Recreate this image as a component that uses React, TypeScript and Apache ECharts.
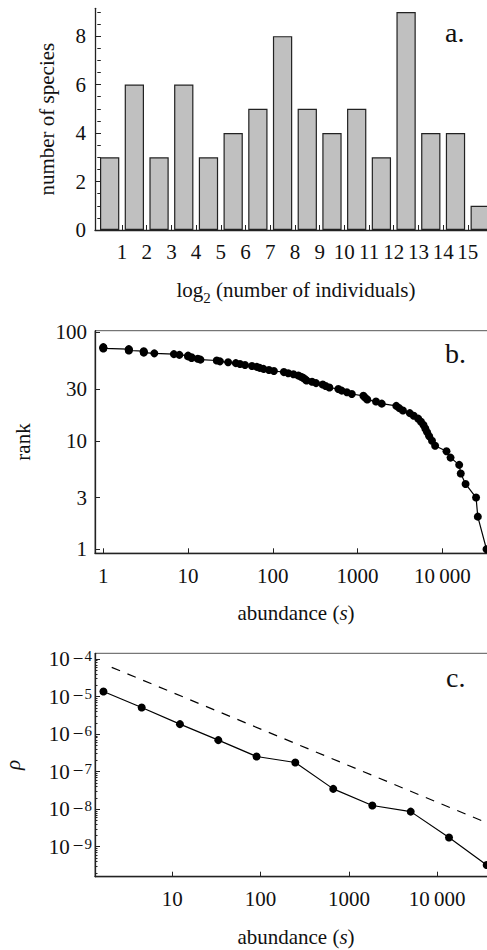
import React, { useEffect, useRef } from "react";
import * as echarts from "echarts";

// ---------- data ----------
// panel a: number of species per log2 abundance class (classes 0..15)
const binValues = [3, 6, 3, 6, 3, 4, 5, 8, 5, 4, 5, 3, 9, 4, 4, 1];
const binTickLabels = [1, 2, 3, 4, 5, 6, 7, 8, 9, 10, 11, 12, 13, 14, 15];
const countTicks = [0, 2, 4, 6, 8];

// panel b: abundance of species ordered by rank (rank = index + 1)
const abundance = [
  33200, 26200, 25000, 18800, 16500, 15800, 12500, 11200, 8220,
  7550, 7000, 6620, 6300, 6000, 5600, 5200, 4600, 4130,
  3430, 3100, 2860,
  1930, 1650, 1300, 1230, 1170,
  855, 748, 650, 593,
  465, 420, 388, 324, 290,
  250, 240, 229, 215, 200, 175, 152, 135,
  103, 90, 77.5, 70, 64.7,
  56.7, 47, 41, 36.6,
  29.7, 23.8, 21.8,
  14, 13, 11, 11, 10, 10,
  7.9, 6.8, 4,
  3, 3, 3, 2, 2, 2,
  1, 1, 1,
];
const rankTicks = [1, 3, 10, 30, 100];
const abundanceTicksB = [1, 10, 100, 1000, 10000];

// panel c: density rho vs abundance s
const rhoS = [1.66, 4.5, 12.2, 33.2, 90, 247, 665, 1840, 5010, 13600, 36300];
const rhoValues = [1.36e-5, 5.1e-6, 1.84e-6, 6.9e-7, 2.53e-7, 1.75e-7, 3.47e-8, 1.25e-8, 8.6e-9, 1.75e-9, 3.25e-10];
const guideS = [2.06, 40000];
const guideRho = [6.0e-5, 3.96e-9];
const abundanceTicksC = [10, 100, 1000, 10000];
const rhoExponents = [-9, -8, -7, -6, -5, -4];

const FONT = "Liberation Serif";
const INK = "#111";
const AXIS = "#222";

const lg = (v: number) => Math.log10(v);
const fmtPow = (v: number) => {
  const n = Math.round(Math.pow(10, v));
  const s = String(n);
  return n >= 10000 ? s.replace(/(\d)(?=(\d{3})+$)/g, "$1\u2009") : s;
};

export default function App() {
  const ref = useRef<HTMLDivElement>(null);

  useEffect(() => {
    if (!ref.current) return;
    const chart = echarts.init(ref.current, undefined, { renderer: "svg" });

    const axisLine = { onZero: false, lineStyle: { color: AXIS, width: 1.3 } };
    const label = { fontFamily: FONT, fontSize: 21, color: INK };
    const nameStyle = {
      fontFamily: FONT,
      fontSize: 21,
      color: INK,
      rich: {
        i: { fontFamily: FONT, fontSize: 21, fontStyle: "italic", color: INK },
        m: { fontFamily: FONT, fontSize: 21, color: INK, lineHeight: 21, verticalAlign: "top" },
        sub: { fontFamily: FONT, fontSize: 15, color: INK, lineHeight: 15, verticalAlign: "top", padding: [11, 0, 0, 0] },
      },
    };

    const minorA: number[] = [];
    for (let v = 0.5; v <= 9; v += 0.5) if (v % 2 !== 0) minorA.push(v);
    const minorC: number[] = [];
    for (let n = -10; n <= -4; n++)
      for (let k = 2; k <= 9; k++) {
        const v = n + Math.log10(k);
        if (v > -9.799 && v < -3.848) minorC.push(v);
      }

    const option: any = {
      animation: false,
      textStyle: { fontFamily: FONT },
      grid: [
        { left: 95, top: 8.3, width: 402, height: 221.7, outerBoundsMode: "none", containLabel: false },
        { left: 95, top: 330.7, width: 402, height: 222.6, outerBoundsMode: "none", containLabel: false, show: true, borderColor: "#555", borderWidth: 1, backgroundColor: "transparent" },
        { left: 95, top: 653.3, width: 402, height: 223.4, outerBoundsMode: "none", containLabel: false, show: true, borderColor: "#555", borderWidth: 1, backgroundColor: "transparent" },
      ],
      xAxis: [
        {
          type: "value", gridIndex: 0, min: -0.093, max: 16.18,
          axisLine, splitLine: { show: false },
          axisTick: { inside: true, length: 5, lineStyle: { color: AXIS }, customValues: [1, 2, 3, 4, 5, 6, 7, 8, 9, 10, 11, 12, 13, 14, 15, 16] },
          axisLabel: { ...label, margin: 11, customValues: binTickLabels, formatter: (v: number) => String(Math.round(v)) },
          name: "{m|log}{sub|2}{m| (number of individuals)}", nameLocation: "middle", nameGap: 49, nameTextStyle: nameStyle,
        },
        {
          type: "value", gridIndex: 1, min: -0.098, max: 4.645,
          axisLine, splitLine: { show: false },
          axisTick: { inside: true, length: 5, lineStyle: { color: AXIS }, customValues: abundanceTicksB.map(lg) },
          axisLabel: { ...label, margin: 12, customValues: abundanceTicksB.map(lg), formatter: fmtPow },
          name: "abundance ({i|s})", nameLocation: "middle", nameGap: 49, nameTextStyle: nameStyle,
        },
        {
          type: "value", gridIndex: 2, min: 0.1246, max: 4.677,
          axisLine, splitLine: { show: false },
          axisTick: { inside: true, length: 5, lineStyle: { color: AXIS }, customValues: abundanceTicksC.map(lg) },
          axisLabel: { ...label, margin: 12, customValues: abundanceTicksC.map(lg), formatter: fmtPow },
          name: "abundance ({i|s})", nameLocation: "middle", nameGap: 50, nameTextStyle: nameStyle,
        },
      ],
      yAxis: [
        {
          type: "value", gridIndex: 0, min: 0, max: 9.15,
          axisLine, splitLine: { show: false },
          axisTick: { inside: true, length: 6, lineStyle: { color: AXIS }, customValues: countTicks },
          axisLabel: { ...label, margin: 9, customValues: countTicks },
          name: "number of species", nameLocation: "middle", nameGap: 38, nameTextStyle: nameStyle,
        },
        {
          type: "value", gridIndex: 0, min: 0, max: 9.15, position: "left",
          axisLine: { show: false }, splitLine: { show: false }, axisLabel: { show: false },
          axisTick: { inside: true, length: 3.5, lineStyle: { color: AXIS }, customValues: minorA },
        },
        {
          type: "value", gridIndex: 1, min: -0.037, max: 2.015,
          axisLine, splitLine: { show: false },
          axisTick: { inside: true, length: 5, lineStyle: { color: AXIS }, customValues: rankTicks.map(lg) },
          axisLabel: { ...label, margin: 8, customValues: rankTicks.map(lg), formatter: fmtPow },
          name: "rank", nameLocation: "middle", nameGap: 62, nameTextStyle: nameStyle,
        },
        {
          type: "value", gridIndex: 2, min: -9.799, max: -3.848,
          axisLine, splitLine: { show: false },
          axisTick: { inside: true, length: 5, lineStyle: { color: AXIS }, customValues: rhoExponents },
          axisLabel: {
            ...label, margin: 3, customValues: rhoExponents,
            formatter: (v: number) => `{b|10}{m|\u2212}{s|${Math.abs(Math.round(v))}}`,
            rich: {
              b: { fontFamily: FONT, fontSize: 21, color: INK, lineHeight: 21, verticalAlign: "bottom" },
              m: { fontFamily: FONT, fontSize: 19, color: INK, lineHeight: 16, verticalAlign: "top", padding: [0, 1, 11, 3] },
              s: { fontFamily: FONT, fontSize: 15, color: INK, lineHeight: 16, verticalAlign: "top", padding: [0, 0, 11, 0] },
            },
          },
          name: "{i|\u03c1}", nameLocation: "middle", nameGap: 72, nameTextStyle: nameStyle,
        },
        {
          type: "value", gridIndex: 2, min: -9.799, max: -3.848, position: "left",
          axisLine: { show: false }, splitLine: { show: false }, axisLabel: { show: false },
          axisTick: { inside: true, length: 2.5, lineStyle: { color: AXIS }, customValues: minorC },
        },
      ],
      series: [
        {
          type: "bar", xAxisIndex: 0, yAxisIndex: 0,
          data: binValues.map((v, k) => [k + 0.5, v]),
          barWidth: 19.3,
          itemStyle: { color: "#c0c0c0", borderColor: "#222", borderWidth: 1.2 },
        },
        {
          type: "line", xAxisIndex: 1, yAxisIndex: 2,
          data: abundance.map((s, i) => [lg(s), lg(i + 1)]),
          symbol: "circle", symbolSize: 8,
          itemStyle: { color: "#000" }, lineStyle: { color: "#000", width: 1.2 },
        },
        {
          type: "line", xAxisIndex: 2, yAxisIndex: 3,
          data: guideS.map((s, i) => [lg(s), lg(guideRho[i])]),
          symbol: "none",
          lineStyle: { color: "#000", width: 1.2, type: [9, 8] },
        },
        {
          type: "line", xAxisIndex: 2, yAxisIndex: 3,
          data: rhoS.map((s, i) => [lg(s), lg(rhoValues[i])]),
          symbol: "circle", symbolSize: 8,
          itemStyle: { color: "#000" }, lineStyle: { color: "#000", width: 1.2 },
        },
      ],
      graphic: [
        { type: "text", left: 445, top: 18.5, style: { text: "a.", font: `28px "${FONT}"`, fill: INK } },
        { type: "text", left: 445, top: 339.8, style: { text: "b.", font: `28px "${FONT}"`, fill: INK } },
        { type: "text", left: 446, top: 663.2, style: { text: "c.", font: `28px "${FONT}"`, fill: INK } },
      ],
    };

    chart.setOption(option);
    return () => chart.dispose();
  }, []);

  return (
    <div style={{ position: "absolute", left: 0, top: 0, width: 487, height: 950, overflow: "hidden", background: "#fff" }}>
      <div ref={ref} style={{ width: 510, height: 950 }} />
    </div>
  );
}
